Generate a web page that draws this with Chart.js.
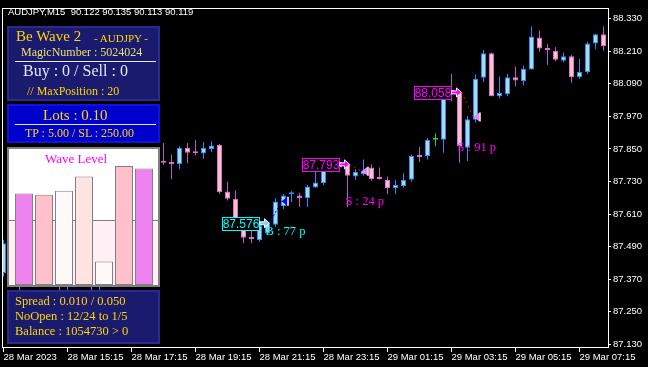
<!DOCTYPE html>
<html>
<head>
<meta charset="utf-8">
<script src="https://cdn.jsdelivr.net/npm/chart.js@4.4.0/dist/chart.umd.min.js"></script>
<style>
  html, body { margin: 0; padding: 0; background: #000; }
  #wrap { position: relative; width: 648px; height: 367px; overflow: hidden; background: #000; }
  #price { position: absolute; left: 0; top: 0; }
  .panel { position: absolute; box-sizing: border-box; }
  .txt { position: absolute; white-space: nowrap; line-height: 1; }
  .serif { font-family: "Liberation Serif", "Times New Roman", serif; }
  .sans { font-family: "Liberation Sans", Arial, sans-serif; }
  .rule { position: absolute; height: 1px; background: #e8e8e8; }
  .gold { color: #ffd700; }
</style>
</head>
<body>
<div id="wrap">
  <canvas id="price" width="648" height="367"></canvas>

  <div class="txt sans" style="left:8px; top:7px; font-size:9.5px; color:#fff;">AUDJPY,M15&nbsp; 90.122 90.135 90.113 90.119</div>

  <div class="panel" style="left:7px; top:26px; width:153px; height:75px; background:#1a1a6e; border:2px solid #2b2b8f;"></div>
  <div class="txt serif gold" style="left:16px; top:29px; font-size:15px;">Be Wave 2</div>
  <div class="txt serif gold" style="left:94px; top:32.5px; font-size:11px;">- AUDJPY -</div>
  <div class="txt serif" style="left:21px; top:45.7px; font-size:12px; color:#e8e070;">MagicNumber : 5024024</div>
  <div class="rule" style="left:15px; top:61px; width:141px;"></div>
  <div class="txt serif" style="left:23px; top:63.3px; font-size:16px; color:#e6e6fa;">Buy : 0 / Sell : 0</div>
  <div class="txt serif gold" style="left:27px; top:85px; font-size:12px;">// MaxPosition : 20</div>

  <div class="panel" style="left:7px; top:104px; width:153px; height:39px; background:#0000cd; border:2px solid #1212dc;"></div>
  <div class="txt serif gold" style="left:43px; top:108px; font-size:15px;">Lots : 0.10</div>
  <div class="rule" style="left:15px; top:124px; width:141px;"></div>
  <div class="txt serif gold" style="left:25px; top:127.3px; font-size:12px;">TP : 5.00 / SL : 250.00</div>

  <div class="panel" style="left:7px; top:147px; width:153px; height:140px; border:2px solid #808080; background:#fff;">
    <canvas id="wave" width="149" height="136" style="position:absolute; left:0; top:0;"></canvas>
  </div>
  <div class="txt serif" style="left:45px; top:152.4px; font-size:13px; color:#ff00ff;">Wave Level</div>

  <div class="panel" style="left:7px; top:290px; width:153px; height:54px; background:#1a1a6e; border:2px solid #2b2b8f;"></div>
  <div class="txt serif gold" style="left:15px; top:295.2px; font-size:12.5px;">Spread : 0.010 / 0.050</div>
  <div class="txt serif gold" style="left:15px; top:310.2px; font-size:12.5px;">NoOpen : 12/24 to 1/5</div>
  <div class="txt serif gold" style="left:15px; top:325.2px; font-size:12.5px;">Balance : 1054730 &gt; 0</div>
</div>

<script>
// M15 bars, 28 Mar 13:15 .. 29 Mar 08:00 (bars 1-19 sit under the panels)
const timeLabels = [
  "28 Mar 2023", "28 Mar 15:15", "28 Mar 17:15", "28 Mar 19:15", "28 Mar 21:15",
  "28 Mar 23:15", "29 Mar 01:15", "29 Mar 03:15", "29 Mar 05:15", "29 Mar 07:15"
];
const priceTicks = [87.130, 87.250, 87.370, 87.490, 87.610, 87.730, 87.850, 87.970, 88.090, 88.210, 88.330];

const opens = [
  87.393, 87.502, 87.455, 87.372, 87.410, 87.392, 87.436, 87.398, 87.350, 87.372,
  87.418, 87.380, 87.345, 87.398, 87.470, 87.545, 87.520, 87.610, 87.690, 87.750,
  87.806, 87.803, 87.793, 87.854, 87.837, 87.833, 87.850, 87.864, 87.693, 87.666,
  87.587, 87.525, 87.514, 87.538, 87.571, 87.639, 87.683, 87.678, 87.668, 87.708,
  87.723, 87.775, 87.781, 87.793, 87.748, 87.757, 87.781, 87.741, 87.736, 87.706,
  87.712, 87.736, 87.822, 87.824, 87.884, 87.884, 88.068, 88.056, 87.854, 87.957,
  88.112, 88.202, 88.044, 88.051, 88.114, 88.100, 88.142, 88.260, 88.221, 88.211,
  88.175, 88.191, 88.114, 88.133, 88.238, 88.272
];
const highs = [
  87.515, 87.520, 87.470, 87.425, 87.430, 87.450, 87.445, 87.405, 87.385, 87.430,
  87.425, 87.390, 87.405, 87.480, 87.560, 87.570, 87.625, 87.705, 87.770, 87.825,
  87.872, 87.829, 87.860, 87.872, 87.884, 87.875, 87.878, 87.868, 87.729, 87.698,
  87.596, 87.557, 87.575, 87.581, 87.668, 87.684, 87.696, 87.688, 87.717, 87.775,
  87.775, 87.811, 87.817, 87.799, 87.775, 87.811, 87.793, 87.781, 87.748, 87.736,
  87.760, 87.829, 87.857, 87.890, 87.908, 88.078, 88.126, 88.064, 87.971, 88.124,
  88.214, 88.205, 88.117, 88.126, 88.153, 88.157, 88.302, 88.286, 88.236, 88.224,
  88.205, 88.197, 88.181, 88.245, 88.274, 88.302
];
const lows = [
  87.380, 87.440, 87.330, 87.360, 87.375, 87.385, 87.380, 87.320, 87.325, 87.365,
  87.370, 87.322, 87.330, 87.390, 87.460, 87.505, 87.512, 87.600, 87.672, 87.740,
  87.792, 87.738, 87.775, 87.797, 87.826, 87.814, 87.838, 87.684, 87.660, 87.581,
  87.502, 87.502, 87.508, 87.533, 87.563, 87.629, 87.654, 87.636, 87.636, 87.708,
  87.717, 87.763, 87.777, 87.636, 87.736, 87.751, 87.733, 87.736, 87.684, 87.684,
  87.708, 87.729, 87.802, 87.811, 87.860, 87.836, 88.025, 87.799, 87.805, 87.947,
  88.096, 88.044, 88.036, 88.044, 88.080, 88.084, 88.142, 88.208, 88.160, 88.173,
  88.169, 88.094, 88.108, 88.126, 88.217, 88.211
];
const closes = [
  87.502, 87.455, 87.372, 87.410, 87.392, 87.436, 87.398, 87.350, 87.372, 87.418,
  87.380, 87.345, 87.398, 87.470, 87.545, 87.520, 87.610, 87.690, 87.750, 87.806,
  87.799, 87.793, 87.854, 87.836, 87.834, 87.854, 87.862, 87.690, 87.666, 87.591,
  87.523, 87.517, 87.569, 87.575, 87.656, 87.678, 87.686, 87.668, 87.711, 87.726,
  87.771, 87.789, 87.802, 87.751, 87.765, 87.770, 87.739, 87.739, 87.706, 87.717,
  87.736, 87.824, 87.820, 87.884, 87.884, 88.068, 88.054, 87.860, 87.959, 88.108,
  88.202, 88.044, 88.056, 88.114, 88.102, 88.145, 88.264, 88.220, 88.214, 88.178,
  88.191, 88.114, 88.133, 88.238, 88.272, 88.229
];

// trades drawn by the EA
const tradeTypes = ["buy", "sell", "sell"];
const tradeOpenBar = [33, 43, 57];
const tradeOpenPrice = [87.576, 87.793, 88.058];
const tradeCloseBar = [35, 45, 59];
const tradeClosePrice = [87.657, 87.768, 87.967];
const tradeResult = ["B : 77 p", "S : 24 p", "S : 91 p"];

// wave level panel
const waveLevels = [70, 69, 72, 83, 18, 91, 89];
const waveThreshold = 50;

const BULL_BODY = "#add8e6", BULL_LINE = "#1e90ff";
const BEAR_BODY = "#ffc0cb", BEAR_LINE = "#da70d6", BEAR_WICK = "#ba55d3";
const DOJI = "#32cd32";

function kind(i) {
  if (opens[i] === closes[i]) return "doji";
  return closes[i] > opens[i] ? "bull" : "bear";
}
const bodyFill = opens.map((_, i) => ({ bull: BULL_BODY, bear: BEAR_BODY, doji: DOJI })[kind(i)]);
const bodyLine = opens.map((_, i) => ({ bull: BULL_LINE, bear: BEAR_LINE, doji: DOJI })[kind(i)]);
const wickLine = opens.map((_, i) => ({ bull: BULL_LINE, bear: BEAR_WICK, doji: DOJI })[kind(i)]);

const font = { family: "Liberation Sans", size: 9.5 };

const framePlugin = {
  id: "frame",
  afterDraw(chart) {
    const { ctx, chartArea: a } = chart;
    ctx.save();
    ctx.strokeStyle = "#fff";
    ctx.lineWidth = 1;
    const l = Math.round(a.left) + 0.5, t = Math.round(a.top) + 0.5;
    const r = Math.round(a.right) + 0.5, b = Math.round(a.bottom) - 0.5;
    ctx.strokeRect(l, t, r - l, b - t);
    ctx.restore();
  },
};

const tradePlugin = {
  id: "trades",
  afterDatasetsDraw(chart) {
    const { ctx, scales: { x, y } } = chart;
    ctx.save();
    tradeTypes.forEach((type, i) => {
      const buy = type === "buy";
      const main = buy ? "#00ffff" : "#ff00ff";
      const ox = x.getPixelForValue(tradeOpenBar[i]);
      const oy = y.getPixelForValue(tradeOpenPrice[i]);
      const cx = x.getPixelForValue(tradeCloseBar[i]);
      const cy = y.getPixelForValue(tradeClosePrice[i]);

      // open -> close line
      ctx.strokeStyle = buy ? "#0000ff" : "#ff0000";
      ctx.lineWidth = 1;
      ctx.setLineDash(buy ? [2, 2] : [2, 3]);
      ctx.beginPath();
      ctx.moveTo(ox + 2, oy);
      ctx.lineTo(cx - 2, cy);
      ctx.stroke();
      ctx.setLineDash([]);

      // price box
      const bx = Math.round(ox - 46) + 0.5, by = Math.round(oy - 6.5) + 0.5;
      ctx.fillStyle = "#000";
      ctx.fillRect(bx, by, 37, 13);
      ctx.strokeStyle = main;
      ctx.strokeRect(bx, by, 37, 13);
      ctx.fillStyle = main;
      ctx.font = "12px 'Liberation Sans'";
      ctx.textAlign = "center";
      ctx.textBaseline = "middle";
      ctx.fillText(tradeOpenPrice[i].toFixed(3), bx + 18.5, by + 7);

      // open arrow
      ctx.beginPath();
      ctx.moveTo(ox + 2, oy);
      ctx.lineTo(ox - 3, oy - 4.5);
      ctx.lineTo(ox - 3, oy - 1.5);
      ctx.lineTo(ox - 8, oy - 1.5);
      ctx.lineTo(ox - 8, oy + 1.5);
      ctx.lineTo(ox - 3, oy + 1.5);
      ctx.lineTo(ox - 3, oy + 4.5);
      ctx.closePath();
      ctx.fillStyle = buy ? "#87cefa" : "#ff00ff";
      ctx.fill();
      ctx.strokeStyle = "#fff";
      ctx.stroke();

      // close arrow
      ctx.beginPath();
      ctx.moveTo(cx - 2, cy);
      ctx.lineTo(cx + 4, cy - 4.5);
      ctx.lineTo(cx + 4, cy + 4.5);
      ctx.closePath();
      ctx.fillStyle = buy ? "#0000ff" : "#ee82ee";
      ctx.fill();
      ctx.strokeStyle = "#fff";
      ctx.lineWidth = 1.5;
      ctx.beginPath();
      ctx.moveTo(cx + 4.5, cy - 4.5);
      ctx.lineTo(cx + 4.5, cy + 4.5);
      ctx.stroke();
      ctx.lineWidth = 1;

      // result text
      ctx.font = "12.5px 'Liberation Serif'";
      ctx.textAlign = "left";
      ctx.textBaseline = "alphabetic";
      ctx.fillStyle = main;
      ctx.fillText(tradeResult[i], ox - 2, cy + 33.5);
    });
    ctx.restore();
  },
};

new Chart(document.getElementById("price"), {
  type: "bar",
  data: {
    datasets: [
      {
        label: "body",
        data: opens.map((o, i) => ({ x: i, y: [o, closes[i]] })),
        backgroundColor: bodyFill,
        borderColor: bodyLine,
        borderWidth: 1,
        borderSkipped: false,
        barThickness: 5,
        minBarLength: 2,
        inflateAmount: 0,
        grouped: false,
        order: 1,
      },
      {
        label: "wick",
        data: highs.map((h, i) => ({ x: i, y: [lows[i], h] })),
        backgroundColor: wickLine,
        borderWidth: 0,
        barThickness: 1,
        inflateAmount: 0,
        grouped: false,
        order: 2,
      },
    ],
  },
  options: {
    responsive: false,
    animation: false,
    devicePixelRatio: 1,
    layout: { padding: { left: 2, top: 3, right: 0, bottom: 0 } },
    plugins: { legend: { display: false }, tooltip: { enabled: false } },
    scales: {
      x: {
        type: "linear",
        min: -0.1875,
        max: 75.5625,
        offset: false,
        afterBuildTicks: (s) => { s.ticks = timeLabels.map((_, i) => ({ value: i * 8 })); },
        afterFit: (s) => { s.height = 19; s.paddingLeft = 0; s.paddingRight = 0; },
        grid: { display: true, offset: false, drawOnChartArea: false, drawTicks: true, tickLength: 4, color: "#fff" },
        border: { display: false },
        ticks: {
          color: "#fff",
          font,
          padding: 0,
          maxRotation: 0,
          minRotation: 0,
          autoSkip: false,
          align: "start",
          callback: (v) => timeLabels[Math.round(v / 8)],
        },
      },
      y: {
        position: "right",
        min: 87.1166,
        max: 88.370,
        beginAtZero: false,
        afterBuildTicks: (s) => { s.ticks = priceTicks.map((v) => ({ value: v })); },
        afterFit: (s) => { s.width = 40; },
        grid: { drawOnChartArea: false, drawTicks: true, tickLength: 3, color: "#fff" },
        border: { display: false },
        ticks: { color: "#fff", font, padding: 2, callback: (v) => v.toFixed(3) },
      },
    },
  },
  plugins: [framePlugin, tradePlugin],
});

const waveBg = {
  id: "waveBg",
  beforeDatasetsDraw(chart) {
    const { ctx, width, height, scales: { y } } = chart;
    const ly = Math.round(y.getPixelForValue(waveThreshold));
    ctx.save();
    ctx.fillStyle = "#fff";
    ctx.fillRect(0, 0, width, ly);
    ctx.fillStyle = "#fff0f5";
    ctx.fillRect(0, ly, width, height - ly);
    ctx.fillStyle = "#808080";
    ctx.fillRect(0, ly, width, 1);
    ctx.restore();
  },
};

new Chart(document.getElementById("wave"), {
  type: "bar",
  data: {
    labels: waveLevels.map((_, i) => String(i + 1)),
    datasets: [
      {
        data: waveLevels,
        backgroundColor: ["#ee82ee", "#ffc0cb", "#fffafa", "#ffe4e1", "#fffafa", "#ffc0cb", "#ee82ee"],
        borderColor: "#808080",
        borderWidth: 1,
        borderSkipped: false,
        barThickness: 18,
        inflateAmount: 0,
      },
    ],
  },
  options: {
    responsive: false,
    animation: false,
    devicePixelRatio: 1,
    layout: { padding: { left: 5, right: 4, top: 0, bottom: 0 } },
    plugins: { legend: { display: false }, tooltip: { enabled: false } },
    scales: {
      x: { display: false },
      y: { display: false, min: 0, max: 104 },
    },
  },
  plugins: [waveBg],
});
</script>
</body>
</html>
